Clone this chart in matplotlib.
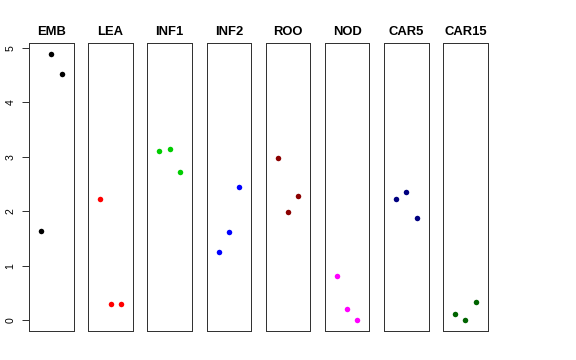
import matplotlib
matplotlib.use("Agg")
import matplotlib.pyplot as plt

plt.rcParams['font.family'] = ['Liberation Sans', 'DejaVu Sans']

tissues = ["EMB", "LEA", "INF1", "INF2", "ROO", "NOD", "CAR5", "CAR15"]
colors = ["black", "red", "#00CD00", "blue", "#8B0000", "magenta", "#000080", "#006400"]
values = {
    "EMB":   [1.64, 4.885, 4.52],
    "LEA":   [2.22, 0.305, 0.30],
    "INF1":  [3.10, 3.15, 2.72],
    "INF2":  [1.26, 1.62, 2.44],
    "ROO":   [2.98, 1.985, 2.28],
    "NOD":   [0.81, 0.20, 0.0],
    "CAR5":  [2.23, 2.36, 1.875],
    "CAR15": [0.117, 0.0, 0.34],
}
yticks = [0, 1, 2, 3, 4, 5]

W, H = 576, 360
fig = plt.figure(figsize=(W / 72, H / 72), dpi=72)

allv = [v for k in tissues for v in values[k]]
ymin, ymax = min(allv), max(allv)
pad = 0.04 * (ymax - ymin)

left0 = 29.2
step = 59.14
pw = 44.5
top_px, bot_px = 43.3, 331.0
for i, (t, c) in enumerate(zip(tissues, colors)):
    ax = fig.add_axes([(left0 + i * step) / W, (H - bot_px) / H, pw / W, (bot_px - top_px) / H])
    ax.plot([1, 2, 3], values[t], 'o', color=c, markersize=5.5, markeredgewidth=0)
    ax.set_xlim(-0.16, 4.16)
    ax.set_ylim(ymin - pad, ymax + pad)
    ax.set_xticks([])
    ax.set_title(t, fontsize=13, fontweight='bold', pad=8.5)
    for s in ax.spines.values():
        s.set_linewidth(1.0)
        s.set_color('#333333')
    if i == 0:
        ax.set_yticks(yticks)
        ax.set_yticklabels([str(v) for v in yticks], rotation=90, va='center', fontsize=10.5)
        ax.tick_params(axis='y', length=7.5, width=0.8, pad=6)
    else:
        ax.set_yticks([])

fig.savefig("out.png", dpi=72)
